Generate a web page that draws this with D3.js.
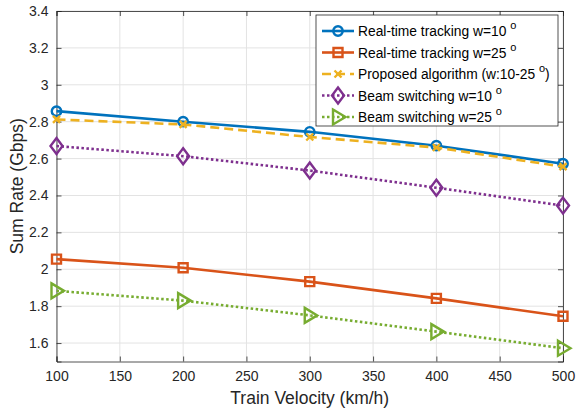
<!DOCTYPE html>
<html>
<head>
<meta charset="utf-8">
<script src="https://cdn.jsdelivr.net/npm/d3@7"></script>
<style>
  html, body { margin: 0; padding: 0; background: #fff; }
  svg { display: block; font-family: "Liberation Sans", Arial, Helvetica, sans-serif; }
</style>
</head>
<body>
<svg id="chart" width="576" height="411"></svg>
<script>
// Train velocity (km/h) on the x axis
const velocities = [100, 200, 300, 400, 500];

// Sum rate (Gbps) for each scheme
const rtTrack10 = [2.857, 2.800, 2.745, 2.670, 2.572];
const rtTrack25 = [2.055, 2.008, 1.933, 1.842, 1.745];
const proposed  = [2.812, 2.785, 2.717, 2.660, 2.556];
const beamSw10  = [2.668, 2.613, 2.535, 2.442, 2.345];
const beamSw25  = [1.883, 1.830, 1.750, 1.662, 1.572];

const xTicks = [100, 150, 200, 250, 300, 350, 400, 450, 500];
const yTicks = [1.6, 1.8, 2, 2.2, 2.4, 2.6, 2.8, 3, 3.2, 3.4];

const seriesLabels = [
  ["Real-time tracking w=10 ", "o", ""],
  ["Real-time tracking w=25 ", "o", ""],
  ["Proposed algorithm (w:10-25 ", "o", ")"],
  ["Beam switching w=10 ", "o", ""],
  ["Beam switching w=25 ", "o", ""]
];
const seriesValues = [rtTrack10, rtTrack25, proposed, beamSw10, beamSw25];
const seriesColors = ["#0072BD", "#D95319", "#EDB120", "#7E2F8E", "#77AC30"];
const seriesDash = [null, null, "9,5", "2.5,2.5", "2.5,2.5"];
const seriesMarker = ["circle", "square", "cross", "diamond", "triangle"];

const svg = d3.select("#chart");
const L = 56.5, R = 563, T = 11, B = 361.5;

const x = d3.scaleLinear().domain([100, 500]).range([L, R]);
const y = d3.scaleLinear().domain([1.5, 3.4]).range([B, T]);

// grid
const grid = svg.append("g").attr("stroke", "#e3e3e3").attr("stroke-width", 1);
grid.selectAll(".gx").data(xTicks).join("line")
  .attr("x1", d => x(d)).attr("x2", d => x(d)).attr("y1", T).attr("y2", B);
grid.selectAll(".gy").data(yTicks).join("line")
  .attr("y1", d => y(d)).attr("y2", d => y(d)).attr("x1", L).attr("x2", R);

// axes
const axisColor = "#262626";
const xAxis = svg.append("g").attr("transform", `translate(0,${B})`)
  .call(d3.axisBottom(x).tickValues(xTicks).tickSize(-5).tickPadding(10).tickFormat(d3.format("d")));
const yAxis = svg.append("g").attr("transform", `translate(${L},0)`)
  .call(d3.axisLeft(y).tickValues(yTicks).tickSize(-5).tickPadding(8).tickFormat(d => String(d)));
const xTop = svg.append("g").attr("transform", `translate(0,${T})`)
  .call(d3.axisTop(x).tickValues(xTicks).tickSize(-5).tickFormat(""));
const yRight = svg.append("g").attr("transform", `translate(${R},0)`)
  .call(d3.axisRight(y).tickValues(yTicks).tickSize(-5).tickFormat(""));
[xAxis, yAxis, xTop, yRight].forEach(g => {
  g.selectAll("path").attr("stroke", axisColor).attr("stroke-width", 0.8);
  g.selectAll("line").attr("stroke", axisColor).attr("stroke-width", 0.8);
  g.selectAll("text").attr("fill", "#262626").attr("font-size", 14)
    .attr("font-family", "Liberation Sans, Arial, sans-serif");
});

// axis titles
svg.append("text").attr("x", (L + R) / 2).attr("y", 404)
  .attr("text-anchor", "middle").attr("font-size", 17.5).attr("fill", "#262626")
  .text("Train Velocity (km/h)");
svg.append("text").attr("transform", `translate(23,${(T + B) / 2}) rotate(-90)`)
  .attr("text-anchor", "middle").attr("font-size", 17.5).attr("fill", "#262626")
  .text("Sum Rate (Gbps)");

// marker shapes drawn around (0,0)
function markerPath(type) {
  switch (type) {
    case "circle": return d3.symbol(d3.symbolCircle, 70)();
    case "square": return "M-4.5,-4.5H4.5V4.5H-4.5Z";
    case "cross": return "M-3.5,-3.5L3.5,3.5M-3.5,3.5L3.5,-3.5";
    case "diamond": return "M0,-8L6,0L0,8L-6,0Z";
    case "triangle": return "M-5,-7.5L7.5,0L-5,7.5Z";
  }
}

const line = d3.line().x((d, i) => x(velocities[i])).y(d => y(d));

seriesValues.forEach((vals, s) => {
  const g = svg.append("g");
  g.append("path").datum(vals).attr("d", line)
    .attr("fill", "none").attr("stroke", seriesColors[s]).attr("stroke-width", 2.6)
    .attr("stroke-dasharray", seriesDash[s]);
  g.selectAll("path.mk").data(vals).join("path").attr("class", "mk")
    .attr("transform", (d, i) => `translate(${x(velocities[i])},${y(d)})`)
    .attr("d", markerPath(seriesMarker[s]))
    .attr("fill", "none").attr("stroke", seriesColors[s]).attr("stroke-width", 2.4);
});

// legend
const lg = svg.append("g");
lg.append("rect").attr("x", 316).attr("y", 15).attr("width", 242).attr("height", 111)
  .attr("fill", "#fff").attr("stroke", "#262626").attr("stroke-width", 0.8);
seriesLabels.forEach((lab, s) => {
  const cy = 31 + s * 21.5;
  lg.append("line").attr("x1", 322).attr("x2", 354).attr("y1", cy).attr("y2", cy)
    .attr("stroke", seriesColors[s]).attr("stroke-width", 2.6)
    .attr("stroke-dasharray", seriesDash[s]);
  lg.append("path").attr("transform", `translate(338,${cy})`)
    .attr("d", markerPath(seriesMarker[s]))
    .attr("fill", "none").attr("stroke", seriesColors[s]).attr("stroke-width", 2.4);
  const t = lg.append("text").attr("x", 358).attr("y", cy + 5)
    .attr("font-size", 13.8).attr("fill", "#000");
  t.append("tspan").text(lab[0]);
  t.append("tspan").attr("dy", -7).attr("font-size", 11).text(lab[1]);
  if (lab[2]) t.append("tspan").attr("dy", 7).text(lab[2]);
});
</script>
</body>
</html>
